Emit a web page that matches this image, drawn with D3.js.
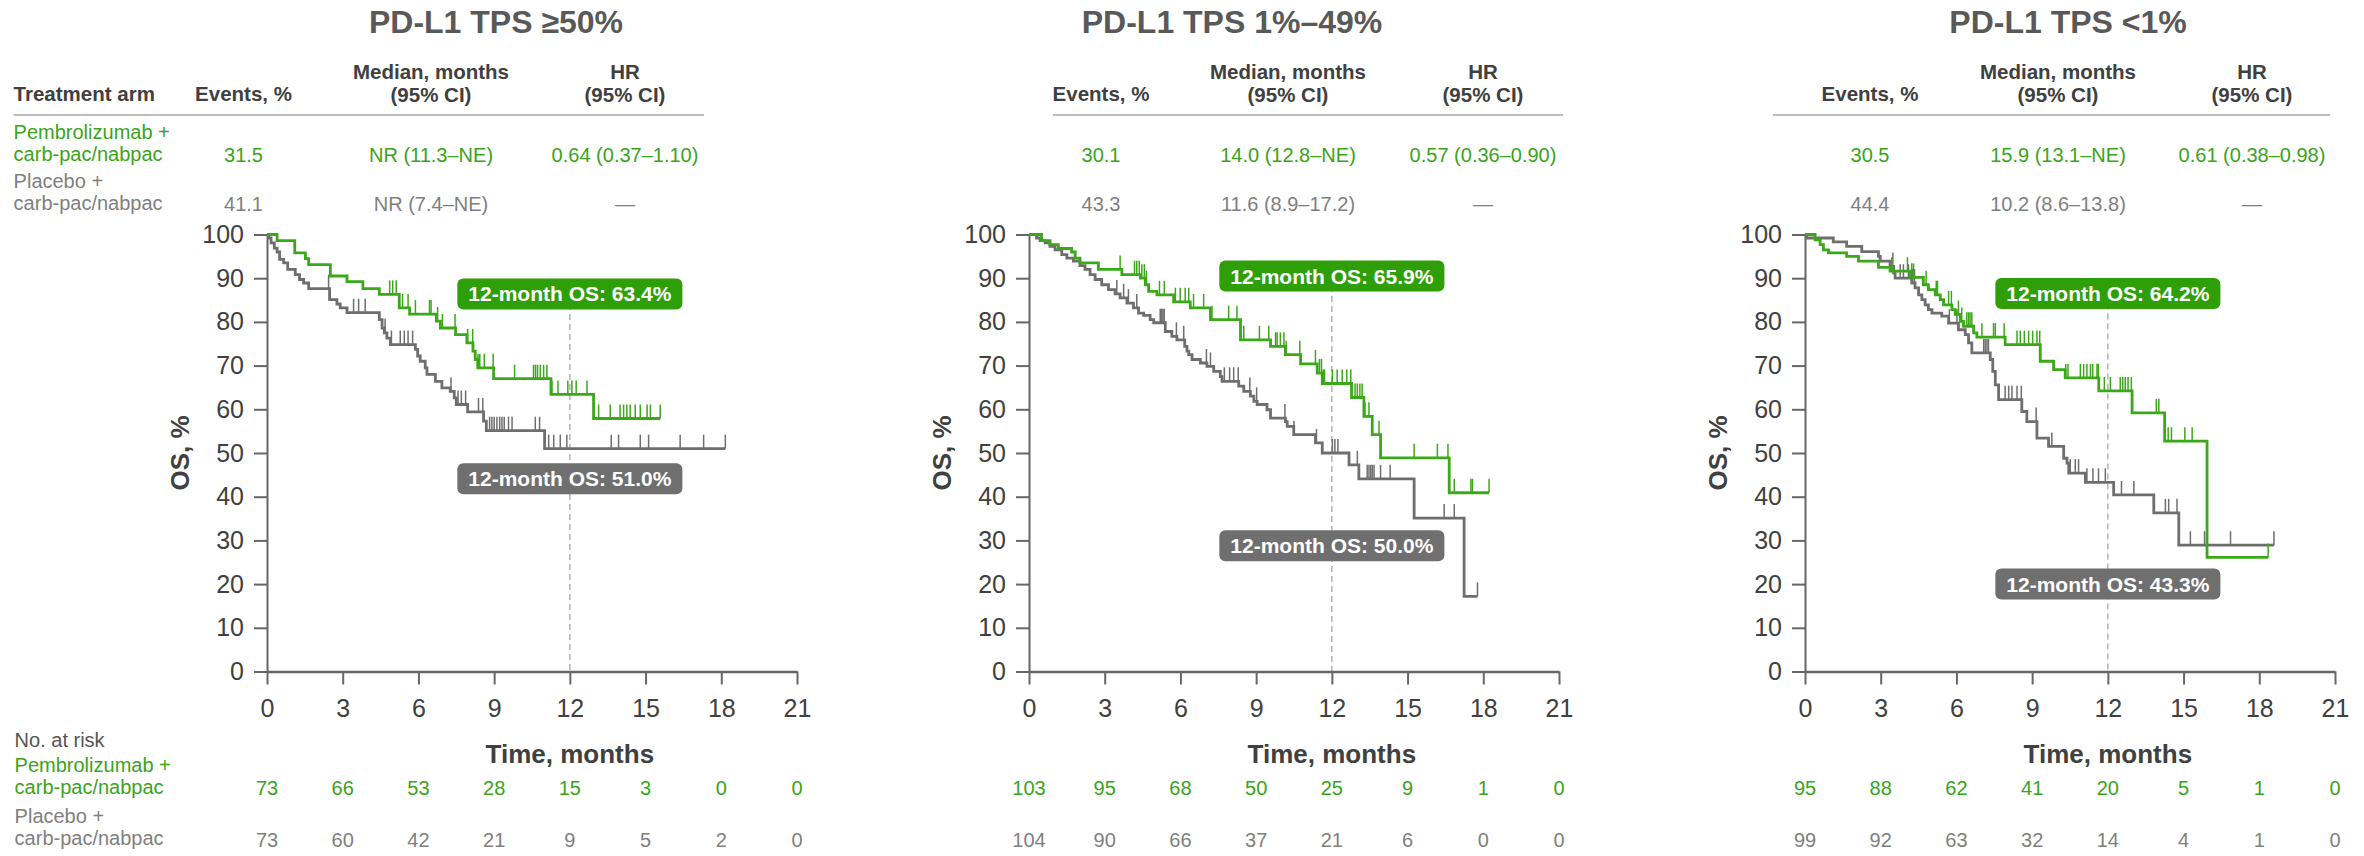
<!DOCTYPE html>
<html>
<head>
<meta charset="utf-8">
<script src="https://cdn.jsdelivr.net/npm/d3@7"></script>
<style>
  body { margin: 0; background: #fff; }
  svg { display: block; font-family: "Liberation Sans", Arial, sans-serif; }
</style>
</head>
<body>
<div id="chart"></div>
<script>
// ---- data ----
const panelTitles = ["PD-L1 TPS \u226550%", "PD-L1 TPS 1%\u201349%", "PD-L1 TPS <1%"];
const armLabels = [["Pembrolizumab +", "carb-pac/nabpac"], ["Placebo +", "carb-pac/nabpac"]];

const eventsPct = [["31.5", "41.1"], ["30.1", "43.3"], ["30.5", "44.4"]];
const medianOS = [["NR (11.3\u2013NE)", "NR (7.4\u2013NE)"], ["14.0 (12.8\u2013NE)", "11.6 (8.9\u201317.2)"], ["15.9 (13.1\u2013NE)", "10.2 (8.6\u201313.8)"]];
const hazardRatio = [["0.64 (0.37\u20131.10)", "\u2014"], ["0.57 (0.36\u20130.90)", "\u2014"], ["0.61 (0.38\u20130.98)", "\u2014"]];

const os12 = [[63.4, 51.0], [65.9, 50.0], [64.2, 43.3]];
const os12LabelAt = [[86.4, 44.1], [90.5, 28.8], [86.5, 20.0]];   // y (OS %) where each callout sits

const timeTicks = [0, 3, 6, 9, 12, 15, 18, 21];
const osTicks = [0, 10, 20, 30, 40, 50, 60, 70, 80, 90, 100];

const atRiskPembro = [[73, 66, 53, 28, 15, 3, 0, 0], [103, 95, 68, 50, 25, 9, 1, 0], [95, 88, 62, 41, 20, 5, 1, 0]];
const atRiskPlacebo = [[73, 60, 42, 21, 9, 5, 2, 0], [104, 90, 66, 37, 21, 6, 0, 0], [99, 92, 63, 32, 14, 4, 1, 0]];

// KM steps: [month, OS % after the drop]
const stepsPembroHigh = [[0.40,98.6],[1.10,95.8],[1.52,94.5],[1.65,93.1],[2.51,90.5],[3.17,89.2],[3.80,87.6],[4.45,86.3],[5.24,83.2],[5.65,81.8],[6.71,80.2],[6.87,78.6],[7.47,77.1],[7.92,75.2],[8.16,73.3],[8.25,71.4],[8.35,69.5],[8.98,67.0],[11.25,63.4],[12.94,57.9]];
const censPembroHigh = [4.86,4.98,5.12,5.37,5.59,5.88,6.44,6.50,6.76,6.95,7.45,7.95,8.15,8.36,8.43,8.61,8.96,9.81,10.56,10.64,10.72,10.83,10.96,11.09,11.29,11.53,11.92,12.08,12.25,12.68,13.14,13.60,13.99,14.13,14.26,14.39,14.59,14.79,15.06,15.19,15.58];
const stepsPlaceboHigh = [[0.07,99.2],[0.16,98.1],[0.29,96.9],[0.40,96.0],[0.50,94.3],[0.66,93.5],[0.82,92.0],[1.12,90.8],[1.29,89.7],[1.45,88.9],[1.65,87.6],[2.48,85.1],[2.77,84.1],[2.90,83.2],[3.17,82.1],[4.45,80.5],[4.56,78.6],[4.65,77.5],[4.75,76.3],[4.89,74.8],[5.88,73.7],[5.97,72.2],[6.07,71.0],[6.27,69.5],[6.34,68.0],[6.67,66.4],[6.93,64.9],[7.26,64.1],[7.42,62.6],[7.50,61.1],[7.95,59.4],[8.58,57.3],[8.69,55.1],[11.00,51.0]];
const censPlaceboHigh = [2.44,3.43,3.63,3.89,4.68,4.93,5.28,5.44,5.59,5.77,7.29,7.57,7.70,7.87,8.38,8.55,8.82,8.91,9.00,9.11,9.22,9.31,9.40,9.57,9.71,10.63,10.80,11.16,11.36,11.62,11.88,13.64,13.93,14.79,15.12,16.37,17.30,18.16];

const stepsPembroMid = [[0.50,98.6],[0.83,97.7],[1.16,96.8],[1.69,96.0],[1.83,94.6],[2.02,93.5],[2.75,92.0],[3.68,90.8],[4.41,90.0],[4.61,88.5],[4.74,87.0],[5.07,86.2],[5.73,84.6],[6.39,83.2],[7.19,80.5],[8.38,75.9],[9.57,74.4],[10.16,72.5],[10.76,70.4],[11.42,68.3],[11.62,65.9],[12.78,62.7],[13.27,58.4],[13.60,54.2],[13.93,48.9],[16.65,40.9]];
const censPembroMid = [3.61,4.18,4.27,4.37,4.47,4.57,4.65,5.17,5.36,5.80,5.99,6.19,6.33,6.52,6.92,7.25,7.91,8.24,8.51,9.13,9.50,9.77,9.83,9.96,10.10,10.19,10.73,11.35,11.51,11.59,11.66,11.71,12.02,12.21,12.41,12.59,12.75,12.92,13.01,13.11,13.20,13.31,13.47,13.87,15.26,16.18,16.60,16.85,17.51,17.57,18.23];
const stepsPlaceboMid = [[0.30,99.2],[0.44,98.6],[0.64,98.1],[0.83,97.3],[1.03,96.5],[1.30,95.4],[1.50,94.6],[1.76,93.9],[2.02,92.9],[2.22,92.0],[2.42,90.8],[2.62,89.7],[2.88,88.5],[3.15,87.4],[3.41,86.4],[3.61,85.5],[3.88,84.3],[4.14,83.2],[4.34,82.0],[4.54,81.5],[4.80,80.5],[4.94,79.8],[5.40,77.8],[5.66,76.7],[5.86,75.9],[6.17,74.4],[6.26,73.3],[6.33,72.5],[6.46,71.4],[6.79,70.6],[7.05,69.8],[7.32,68.7],[7.58,67.5],[7.65,66.4],[8.31,65.3],[8.51,64.1],[8.77,63.0],[8.91,61.8],[9.04,61.1],[9.43,59.9],[9.57,58.0],[10.16,57.2],[10.23,56.1],[10.49,54.2],[11.35,52.3],[11.62,50.0],[12.68,47.3],[13.07,44.1],[15.26,35.1],[17.24,17.2]];
const censPlaceboMid = [3.48,3.75,3.94,4.27,5.20,5.26,5.31,5.36,5.84,6.13,7.03,7.19,7.74,7.95,8.11,8.29,8.75,9.02,10.14,10.50,11.39,12.02,12.12,12.24,13.01,13.40,13.47,13.54,13.60,13.67,13.93,14.31,16.45,16.85,17.77];

const stepsPembroLow = [[0.40,98.8],[0.60,97.7],[0.73,96.5],[0.93,95.8],[1.65,95.0],[2.12,93.9],[2.91,92.5],[3.37,91.6],[4.17,90.2],[4.69,88.5],[4.89,87.4],[5.16,86.2],[5.36,85.1],[5.49,83.9],[5.82,82.8],[5.95,81.7],[6.15,80.1],[6.28,79.0],[6.68,77.5],[6.81,76.5],[7.93,74.8],[9.32,71.0],[9.85,69.1],[10.31,67.2],[11.64,64.2],[12.96,59.2],[14.25,52.7],[15.93,26.1]];
const censPembroLow = [3.44,4.06,4.23,4.30,4.80,5.20,5.25,5.69,5.80,6.08,6.21,6.41,6.48,6.54,6.61,7.01,7.47,7.54,7.89,8.40,8.53,8.69,8.86,9.02,9.19,9.30,10.33,10.42,10.91,11.04,11.17,11.31,11.40,11.57,11.62,11.86,12.10,12.49,12.59,12.69,12.80,12.93,13.92,14.02,14.39,14.52,15.05,15.34,18.35];
const stepsPlaceboLow = [[0.07,99.2],[1.12,98.3],[1.65,97.3],[2.25,96.1],[2.91,95.0],[2.98,93.9],[3.37,92.7],[3.51,91.2],[3.57,90.0],[4.23,88.9],[4.36,87.8],[4.50,86.2],[4.63,85.1],[4.76,83.9],[4.89,82.8],[5.03,82.0],[5.42,81.3],[5.69,79.7],[6.08,78.2],[6.35,77.1],[6.48,75.2],[6.61,72.9],[7.34,71.4],[7.44,68.7],[7.54,65.6],[7.67,62.2],[8.59,59.5],[8.79,57.2],[9.19,53.4],[9.65,51.5],[10.25,48.8],[10.38,47.7],[10.45,45.4],[11.11,43.3],[12.23,40.4],[13.82,36.3],[14.81,28.9]];
const censPlaceboLow = [3.48,3.77,3.90,4.10,4.27,4.34,5.72,6.02,7.08,7.14,7.21,7.27,7.93,8.07,8.20,8.40,8.57,9.16,9.78,10.51,10.71,10.84,11.17,11.41,11.63,11.90,12.54,13.03,14.28,14.41,14.74,15.27,15.83,16.86,18.58];

const pembroSteps = [stepsPembroHigh, stepsPembroMid, stepsPembroLow];
const pembroCens = [censPembroHigh, censPembroMid, censPembroLow];
const placeboSteps = [stepsPlaceboHigh, stepsPlaceboMid, stepsPlaceboLow];
const placeboCens = [censPlaceboHigh, censPlaceboMid, censPlaceboLow];

// ---- layout ----
const W = 2364, H = 856;
const plotW = 530, yTop = 234.5, yBottom = 671.5;
const panels = [
  { x0: 267,  titleX: 496,  colX: [243.5, 431, 625],   rule: [13.6, 704] },
  { x0: 1029, titleX: 1232, colX: [1101, 1288, 1483],  rule: [1053, 1563] },
  { x0: 1805, titleX: 2068, colX: [1870, 2058, 2252],  rule: [1773, 2330] }
];

const green = "#3aa818", greenBox = "#2e9f08", greenText = "#3aa41c";
const grey = "#6e6e6e", greyBox = "#6f6f6f", greyText = "#7f7f7f";
const ink = "#404040", axisCol = "#666";

const svg = d3.select("#chart").append("svg")
  .attr("width", W).attr("height", H)
  .style("background", "#fff");

function survivalAt(steps, t) {
  let s = 100;
  for (const [ts, v] of steps) { if (ts <= t) s = v; else break; }
  return s;
}

panels.forEach((p, i) => {
  const g = svg.append("g");
  const x = d3.scaleLinear().domain([0, 21]).range([p.x0, p.x0 + plotW]);
  const y = d3.scaleLinear().domain([0, 100]).range([yBottom, yTop]);

  // title
  g.append("text").attr("x", p.titleX).attr("y", 33)
    .attr("text-anchor", "middle").attr("font-size", 32).attr("font-weight", "bold")
    .attr("fill", "#595959").text(panelTitles[i]);

  // summary table
  const head = g.append("g").attr("font-weight", "bold").attr("font-size", 20.5).attr("fill", ink).attr("text-anchor", "middle");
  if (i === 0) head.append("text").attr("x", 13.6).attr("y", 101).attr("text-anchor", "start").text("Treatment arm");
  head.append("text").attr("x", p.colX[0]).attr("y", 101).text("Events, %");
  head.append("text").attr("x", p.colX[1]).attr("y", 79).text("Median, months");
  head.append("text").attr("x", p.colX[1]).attr("y", 102).text("(95% CI)");
  head.append("text").attr("x", p.colX[2]).attr("y", 79).text("HR");
  head.append("text").attr("x", p.colX[2]).attr("y", 102).text("(95% CI)");
  g.append("line").attr("x1", p.rule[0]).attr("x2", p.rule[1]).attr("y1", 115).attr("y2", 115)
    .attr("stroke", "#bdbdbd").attr("stroke-width", 2);

  const rowBase = [162, 211];
  const rowCol = [greenText, greyText];
  [0, 1].forEach(r => {
    const row = g.append("g").attr("font-size", 20).attr("fill", rowCol[r]).attr("text-anchor", "middle");
    if (i === 0) {
      row.append("text").attr("x", 13.6).attr("y", rowBase[r] - 23).attr("text-anchor", "start").text(armLabels[r][0]);
      row.append("text").attr("x", 13.6).attr("y", rowBase[r] - 1).attr("text-anchor", "start").text(armLabels[r][1]);
    }
    row.append("text").attr("x", p.colX[0]).attr("y", rowBase[r]).text(eventsPct[i][r]);
    row.append("text").attr("x", p.colX[1]).attr("y", rowBase[r]).text(medianOS[i][r]);
    row.append("text").attr("x", p.colX[2]).attr("y", rowBase[r]).text(hazardRatio[i][r]);
  });

  // 12-month reference line
  g.append("line").attr("x1", x(12)).attr("x2", x(12))
    .attr("y1", y(os12LabelAt[i][0])).attr("y2", y(0))
    .attr("stroke", "#b4b4b4").attr("stroke-width", 1.5).attr("stroke-dasharray", "6,4");

  // axes
  const yAxis = g.append("g").attr("transform", `translate(${p.x0},0)`)
    .call(d3.axisLeft(y).tickValues(osTicks).tickSize(13).tickSizeOuter(0).tickPadding(10));
  const xAxis = g.append("g").attr("transform", `translate(0,${yBottom})`)
    .call(d3.axisBottom(x).tickValues(timeTicks).tickSize(13).tickSizeOuter(0).tickPadding(15));
  [yAxis, xAxis].forEach(a => {
    a.selectAll("path,line").attr("stroke", axisCol).attr("stroke-width", 2);
    a.selectAll("text").attr("font-size", 25).attr("fill", ink)
      .attr("font-family", "'Liberation Sans', Arial, sans-serif");
  });
  xAxis.select(".domain").attr("stroke-width", 2.6);

  g.append("text")
    .attr("transform", `translate(${p.x0 - 78},${(yTop + yBottom) / 2}) rotate(-90)`)
    .attr("text-anchor", "middle").attr("font-size", 26).attr("font-weight", "bold")
    .attr("fill", ink).text("OS, %");
  g.append("text").attr("x", x(12)).attr("y", 763)
    .attr("text-anchor", "middle").attr("font-size", 26).attr("font-weight", "bold")
    .attr("fill", ink).text("Time, months");

  // KM curves
  const line = d3.line().x(d => x(d[0])).y(d => y(d[1])).curve(d3.curveStepAfter);
  const arms = [
    { steps: placeboSteps[i], cens: placeboCens[i], col: grey },
    { steps: pembroSteps[i], cens: pembroCens[i], col: green }
  ];
  arms.forEach(a => {
    const end = d3.max(a.cens);
    const pts = [[0, 100], ...a.steps, [end, a.steps[a.steps.length - 1][1]]];
    g.append("path").datum(pts).attr("d", line)
      .attr("fill", "none").attr("stroke", a.col).attr("stroke-width", 2.8);
    g.append("g").selectAll("line").data(a.cens).join("line")
      .attr("x1", d => x(d)).attr("x2", d => x(d))
      .attr("y1", d => y(survivalAt(a.steps, d)))
      .attr("y2", d => y(survivalAt(a.steps, d)) - 14)
      .attr("stroke", a.col).attr("stroke-width", 1.5);
  });

  // 12-month OS callouts
  [[0, greenBox], [1, greyBox]].forEach(([k, col]) => {
    const cy = y(os12LabelAt[i][k]);
    const lab = g.append("g");
    const t = lab.append("text").attr("x", x(12)).attr("y", cy + 7.5)
      .attr("text-anchor", "middle").attr("font-size", 21).attr("font-weight", "bold")
      .attr("fill", "#fff").text(`12-month OS: ${os12[i][k].toFixed(1)}%`);
    const w = t.node().getComputedTextLength() + 22;
    lab.insert("rect", "text").attr("x", x(12) - w / 2).attr("y", cy - 15.5)
      .attr("width", w).attr("height", 31).attr("rx", 6).attr("fill", col);
  });

  // number at risk
  const risk = g.append("g").attr("font-size", 20).attr("text-anchor", "middle");
  risk.selectAll("text.p").data(atRiskPembro[i]).join("text").attr("class", "p")
    .attr("x", (d, j) => x(timeTicks[j])).attr("y", 795).attr("fill", greenText).text(d => d);
  risk.selectAll("text.c").data(atRiskPlacebo[i]).join("text").attr("class", "c")
    .attr("x", (d, j) => x(timeTicks[j])).attr("y", 847).attr("fill", greyText).text(d => d);
  if (i === 0) {
    const lbl = g.append("g").attr("font-size", 20);
    lbl.append("text").attr("x", 14.6).attr("y", 747).attr("fill", "#555").text("No. at risk");
    lbl.append("text").attr("x", 14.6).attr("y", 772).attr("fill", greenText).text(armLabels[0][0]);
    lbl.append("text").attr("x", 14.6).attr("y", 794).attr("fill", greenText).text(armLabels[0][1]);
    lbl.append("text").attr("x", 14.6).attr("y", 823).attr("fill", greyText).text(armLabels[1][0]);
    lbl.append("text").attr("x", 14.6).attr("y", 845).attr("fill", greyText).text(armLabels[1][1]);
  }
});
</script>
</body>
</html>
